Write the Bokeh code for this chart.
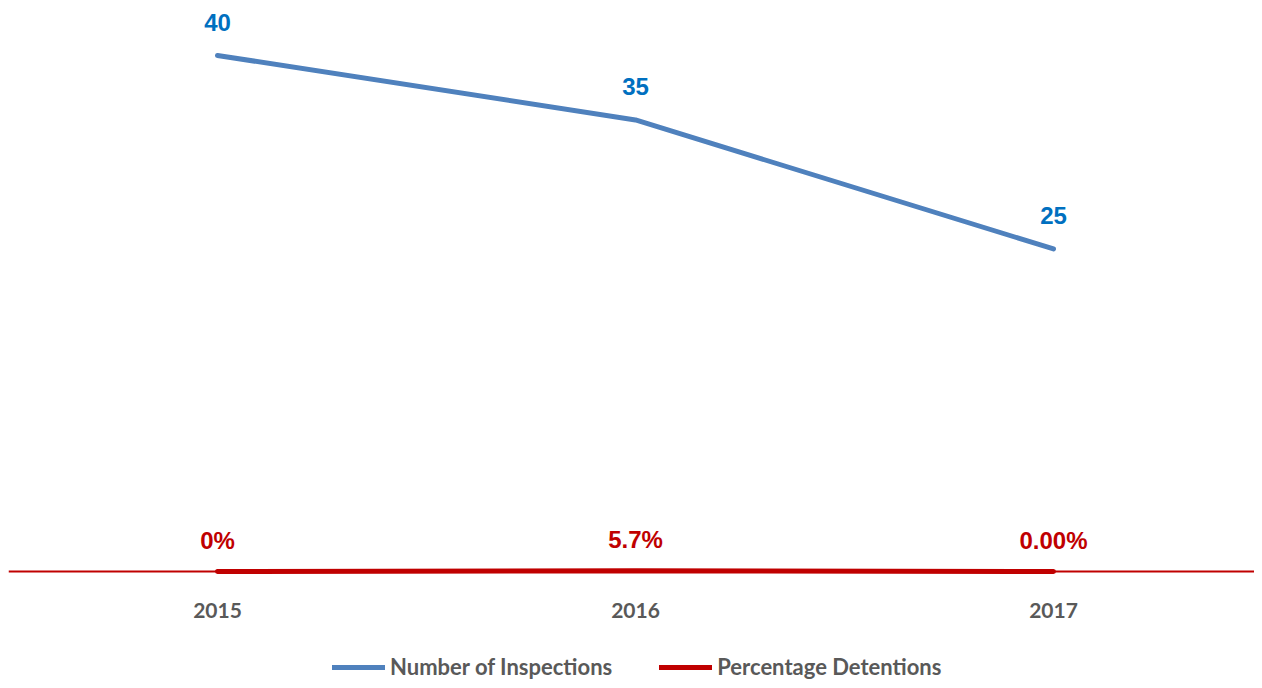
from bokeh.plotting import figure
from bokeh.models import Range1d, Span, Legend, LegendItem, ColumnDataSource
from bokeh.core.properties import value
from bokeh.embed import file_html
from bokeh.resources import INLINE

years = ["2015", "2016", "2017"]
inspections = [40, 35, 25]
detention_pct = [0.0, 5.7, 0.0]
inspection_labels = ["40", "35", "25"]
detention_labels = ["0%", "5.7%", "0.00%"]

BLUE = "#4F81BD"
BLUE_TXT = "#0070C0"
RED = "#C00000"
GRAY = "#595959"

W, H = 1254, 680
LEFT = 8
PX_PER_CAT = 418.0
PX_PER_UNIT = 12.9
Y_TOP = 44.26

x_start = -0.5
x_end = x_start + (W - LEFT) / PX_PER_CAT

p = figure(x_range=Range1d(x_start, x_end),
           y_range=Range1d(Y_TOP - H / PX_PER_UNIT, Y_TOP),
           width=W, height=H, output_backend="svg", toolbar_location=None,
           min_border_left=LEFT, min_border_right=0, min_border_top=0, min_border_bottom=0)
p.outline_line_color = None
p.xgrid.visible = False
p.ygrid.visible = False
p.axis.visible = False
p.border_fill_color = "white"

p.add_layout(Span(location=0, dimension="width", line_color=RED, line_width=2))

xs = list(range(len(years)))
src = ColumnDataSource(dict(x=xs, year=years, y=inspections, lab=inspection_labels,
                            y2=[v / 100 for v in detention_pct], lab2=detention_labels,
                            y0=[0] * len(years)))
r1 = p.line("x", "y", source=src, line_color=BLUE, line_width=5, line_cap="round")
r2 = p.line("x", "y2", source=src, line_color=RED, line_width=5, line_cap="round")

p.text("x", "y", text="lab", source=src, y_offset=-33, text_align="center",
       text_baseline="middle", text_color=BLUE_TXT, text_font=value("Liberation Sans"),
       text_font_style="bold", text_font_size="24px")
p.text("x", "y2", text="lab2", source=src, y_offset=-31, text_align="center",
       text_baseline="middle", text_color=RED, text_font=value("Liberation Sans"),
       text_font_style="bold", text_font_size="24px")
# category (year) labels under the zero line
p.text("x", "y0", text="year", source=src, y_offset=39, text_align="center",
       text_baseline="middle", text_color=GRAY, text_font=value("Lato"),
       text_font_style="bold", text_font_size="21px")

legend = Legend(items=[LegendItem(label="Number of Inspections", renderers=[r1]),
                       LegendItem(label="Percentage Detentions", renderers=[r2])],
                orientation="horizontal", location=(324, 0),
                label_text_font="Lato", label_text_font_style="bold",
                label_text_font_size="22px", label_text_color=GRAY,
                label_height=22, glyph_height=22,
                glyph_width=53, label_standoff=5, spacing=47,
                border_line_color=None, background_fill_alpha=0,
                margin=0, padding=0)
p.add_layout(legend)

open("out.html", "w").write(file_html(p, INLINE))
